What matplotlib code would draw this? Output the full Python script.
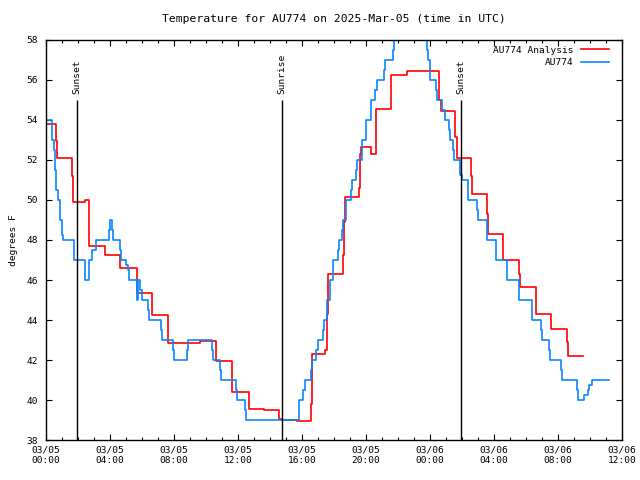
import matplotlib
matplotlib.use('Agg')
import matplotlib.pyplot as plt

# hours since 2025-03-05 00:00 UTC
analysis_t = [0.0, 0.65, 0.7, 1.6, 1.7, 2.44, 2.67, 2.7, 3.67, 4.63, 5.67, 6.65, 7.65,
              9.65, 10.65, 11.65, 12.67, 13.6, 14.58, 14.77, 15.67, 16.58, 16.65, 17.44,
              17.55, 17.6, 18.58, 18.63, 18.7, 19.58, 19.62, 19.68, 20.3, 20.6, 21.58,
              22.58, 24.58, 24.68, 25.56, 25.67, 26.58, 26.65, 27.58, 27.63, 28.58,
              29.58, 29.62, 30.6, 31.58, 32.58, 32.65, 33.58]
analysis_v = [53.78, 52.95, 52.08, 51.2, 49.88, 50.0, 48.85, 47.7, 47.23, 46.58, 45.37, 44.25, 42.83,
              42.93, 41.93, 40.38, 39.53, 39.48, 39.05, 39.0, 38.93, 39.78, 42.28, 42.5,
              44.3, 46.28, 47.25, 48.9, 50.13, 50.6, 52.3, 52.63, 52.28, 54.53, 56.23,
              56.43, 55.0, 54.45, 53.17, 52.08, 51.2, 50.3, 49.3, 48.28, 46.98,
              46.3, 45.63, 44.28, 43.53, 42.9, 42.18, 42.18]

obs_t = [0.0, 0.35, 0.4, 0.5, 0.55, 0.62, 0.72, 0.85, 0.9, 0.97, 1.02, 1.08, 1.73, 1.78,
         2.44, 2.71, 2.85, 3.15, 3.94, 4.0, 4.1, 4.2, 4.63, 4.7, 5.02, 5.1, 5.17, 5.67,
         5.73, 5.9, 6.0, 6.4, 6.46, 7.2, 7.25, 7.96, 8.0, 8.8, 8.87, 10.4, 10.45, 10.9,
         10.96, 11.9, 11.94, 12.45, 12.5, 15.79, 16.06, 16.2, 16.56, 16.65, 16.9, 17.02,
         17.3, 17.37, 17.55, 17.78, 17.96, 18.25, 18.3, 18.5, 18.54, 18.73, 18.77, 19.06,
         19.1, 19.38, 19.46, 19.75, 20.02, 20.3, 20.56, 20.68, 21.1, 21.2, 21.68, 21.75,
         22.0, 22.5, 23.0, 23.5, 23.8, 23.88, 24.0, 24.35, 24.44, 24.75, 24.92, 25.2,
         25.25, 25.45, 25.5, 25.85, 26.0, 26.35, 26.4, 26.95, 27.0, 27.55, 27.58, 28.12,
         28.15, 28.8, 28.83, 29.55, 29.57, 30.35, 30.38, 30.95, 31.0, 31.45, 31.5, 32.2,
         32.27, 33.2, 33.25, 33.65, 33.75, 33.85, 33.95, 34.1, 35.17]
obs_v = [54, 53.75, 53, 52.5, 51.5, 50.5, 50, 49.5, 49, 48.75, 48.25, 48, 47.5, 47,
         46, 47, 47.5, 48, 48.5, 49, 48.5, 48, 47.5, 47, 46.75, 46.5, 46, 45,
         46, 45.5, 45, 44.5, 44, 43.5, 43, 42.5, 42, 42.5, 43, 42.5, 42, 41.5,
         41, 40.5, 40, 39.5, 39, 40, 40.5, 41, 41.5, 42, 42.5, 43,
         43.5, 44, 45, 46, 47, 47.5, 48, 48.5, 49, 49.5, 50, 50.5,
         51, 51.5, 52, 53, 54, 55, 55.5, 56, 56.5, 57, 57.5, 58.5,
         59.5, 60, 59.5, 58.5, 57.5, 57, 56, 55.5, 55, 54.5, 54, 53.5,
         53, 52.5, 52, 51.25, 51, 50.5, 50, 49.5, 49, 48.5, 48, 47.5,
         47, 46.5, 46, 45.5, 45, 44.5, 44, 43.5, 43, 42.5, 42, 41.5,
         41, 40.5, 40, 40.25, 40.25, 40.5, 40.75, 41, 41]

sun_t = [1.94, 14.75, 25.94]
sun_labels = ['Sunset', 'Sunrise', 'Sunset']

xtick_pos = [0, 4, 8, 12, 16, 20, 24, 28, 32, 36]
xtick_labels = ['03/05\n00:00', '03/05\n04:00', '03/05\n08:00', '03/05\n12:00', '03/05\n16:00',
                '03/05\n20:00', '03/06\n00:00', '03/06\n04:00', '03/06\n08:00', '03/06\n12:00']

plt.rcParams['font.family'] = 'DejaVu Sans Mono'
plt.rcParams['font.size'] = 6.8

fig = plt.figure(figsize=(6.4, 4.8), dpi=100)
ax = fig.add_axes([46 / 640, 40 / 480, 576 / 640, 400 / 480])

ax.plot(analysis_t, analysis_v, color='#ff0000', lw=1.2, drawstyle='steps-post', label='AU774 Analysis')
ax.plot(obs_t, obs_v, color='#0a84ff', lw=1.2, drawstyle='steps-post', label='AU774')

for t, lab in zip(sun_t, sun_labels):
    ax.vlines(t, 38, 55, color='black', lw=1.0)
    ax.text(t, 55.3, lab, rotation=90, ha='center', va='bottom')

ax.set_xlim(0, 36)
ax.set_ylim(38, 58)
ax.set_xticks(xtick_pos)
ax.set_xticklabels(xtick_labels)
ax.set_xticks(range(0, 37), minor=True)
ax.set_yticks(range(38, 59, 2))
ax.tick_params(which='both', direction='in', top=True, right=True, width=0.8)
ax.tick_params(which='major', length=4, pad=4)
ax.tick_params(which='minor', length=2)
ax.tick_params(axis='y', pad=6)
for s in ax.spines.values():
    s.set_linewidth(1.0)

ax.set_ylabel('degrees F', labelpad=6)
ax.set_title('Temperature for AU774 on 2025-Mar-05 (time in UTC)', pad=13)
ax.legend(loc='upper right', bbox_to_anchor=(1 - 7 / 576, 1), frameon=False, markerfirst=False,
          handlelength=3, borderaxespad=0.2, labelspacing=0.35, handletextpad=0.8)

plt.savefig('out.png', dpi=100)
